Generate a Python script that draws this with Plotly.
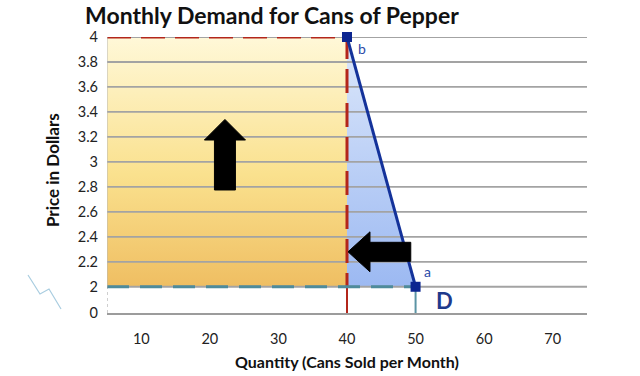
import plotly.graph_objects as go

# ---- data ----
demand_qty = [40, 50]          # quantity at points b, a
demand_price = [4, 2]          # price at points b, a
point_labels = ["b", "a"]
x_ticks = [10, 20, 30, 40, 50, 60, 70]
y_ticks = [2.0, 2.2, 2.4, 2.6, 2.8, 3.0, 3.2, 3.4, 3.6, 3.8, 4.0]
y_tick_text = ["2", "2.2", "2.4", "2.6", "2.8", "3", "3.2", "3.4", "3.6", "3.8", "4"]

# axis layout (broken axis: 0 shown one step below 2)
X_MIN, X_MAX = 5, 75
ZERO_POS = 1.79
Y_MAX = 4

FONT = "Lato"
qb, qa = demand_qty
pb, pa = demand_price

fig = go.Figure()

# orange revenue rectangle (price b x quantity b)
fig.add_trace(go.Scatter(
    x=[X_MIN, qb, qb, X_MIN, X_MIN], y=[pa, pa, pb, pb, pa],
    fill="toself", mode="lines", line=dict(width=0),
    fillgradient=dict(type="vertical", start=pa, stop=pb,
                      colorscale=[[0, "#EFBE62"], [0.45, "#FAE18E"], [1, "#FFF8D8"]]),
    hoverinfo="skip", showlegend=False))

# blue triangle between quantity b and demand curve
fig.add_trace(go.Scatter(
    x=[qb, qa, qb, qb], y=[pa, pa, pb, pa],
    fill="toself", mode="lines", line=dict(width=0),
    fillgradient=dict(type="vertical", start=pa, stop=pb,
                      colorscale=[[0, "#9CB9F2"], [1, "#DDE8FB"]]),
    hoverinfo="skip", showlegend=False))

# horizontal gridlines drawn above the fills
gx, gy = [], []
for v in y_ticks:
    gx += [X_MIN, X_MAX, None]
    gy += [v, v, None]
fig.add_trace(go.Scatter(x=gx, y=gy, mode="lines",
                         line=dict(color="#A3A3A3", width=1.8),
                         hoverinfo="skip", showlegend=False))

# red dashed guide lines for point b
fig.add_trace(go.Scatter(x=[X_MIN, qb, qb], y=[pb, pb, pa], mode="lines",
                         line=dict(color="#B3261B", width=3, dash="24px,10px"),
                         hoverinfo="skip", showlegend=False, cliponaxis=False))
fig.add_trace(go.Scatter(x=[qb, qb], y=[pa, ZERO_POS], mode="lines",
                         line=dict(color="#B3261B", width=2),
                         hoverinfo="skip", showlegend=False))

# teal guide lines for point a
fig.add_trace(go.Scatter(x=[X_MIN, qa], y=[pa, pa], mode="lines",
                         line=dict(color="#4E8B9B", width=3, dash="22px,11px"),
                         hoverinfo="skip", showlegend=False))
fig.add_trace(go.Scatter(x=[qa, qa], y=[pa, ZERO_POS], mode="lines",
                         line=dict(color="#5B94A4", width=2),
                         hoverinfo="skip", showlegend=False))

# demand curve
fig.add_trace(go.Scatter(x=demand_qty, y=demand_price, mode="lines+markers",
                         line=dict(color="#14329A", width=3),
                         marker=dict(symbol="square", size=10, color="#0C2590"),
                         cliponaxis=False, hoverinfo="skip", showlegend=False))

annotations = []
# point labels
annotations.append(dict(x=qb, y=pb, text=point_labels[0], showarrow=False,
                        xanchor="center", yanchor="middle",
                        xshift=15, yshift=-11, font=dict(family=FONT, size=14, color="#2A4AA8")))
annotations.append(dict(x=qa, y=pa, text=point_labels[1], showarrow=False,
                        xanchor="center", yanchor="middle",
                        xshift=12, yshift=15, font=dict(family=FONT, size=14, color="#2A4AA8")))
annotations.append(dict(x=qa, y=pa, text="<b>D</b>", showarrow=False,
                        xanchor="center", yanchor="middle",
                        xshift=29, yshift=-14, font=dict(family=FONT, size=22, color="#1F3A8C")))
# axis titles
annotations.append(dict(xref="paper", yref="paper", x=0.5, y=-0.175,
                        xanchor="center", yanchor="middle",
                        text="<b>Quantity (Cans Sold per Month)</b>", showarrow=False,
                        font=dict(family=FONT, size=16, color="#111")))
annotations.append(dict(xref="paper", yref="paper", x=-0.1146, y=0.518, textangle=-90,
                        xanchor="center", yanchor="middle",
                        text="<b>Price in Dollars</b>", showarrow=False,
                        font=dict(family=FONT, size=17, color="#111")))

shapes = []
# left axis edge and dotted break segment
shapes.append(dict(type="line", xref="x", yref="y", x0=X_MIN, x1=X_MIN, y0=pa, y1=Y_MAX,
                   line=dict(color="#B8B8B8", width=1)))
shapes.append(dict(type="line", xref="x", yref="y", x0=X_MIN, x1=X_MIN, y0=ZERO_POS, y1=pa,
                   line=dict(color="#A0A0A0", width=1, dash="dot")))
# axis-break squiggle
shapes.append(dict(type="path", xref="paper", yref="paper",
                   path="M -0.1646 0.1377 L -0.1396 0.0688 L -0.1208 0.0870 L -0.0958 0.0145",
                   line=dict(color="#A9CDE0", width=1.2)))

# block arrows
def up_arrow(cx, tip, head_base, bottom, head_hw, shaft_hw):
    return ("M {l} {b} L {l} {hb} L {hl} {hb} L {cx} {t} L {hr} {hb} L {r} {hb} L {r} {b} Z"
            .format(l=cx - shaft_hw, r=cx + shaft_hw, b=bottom, hb=head_base,
                    hl=cx - head_hw, hr=cx + head_hw, cx=cx, t=tip))

def left_arrow(cy, tip, head_base, right, head_hh, shaft_hh):
    return ("M {r} {t1} L {hb} {t1} L {hb} {ht} L {tip} {cy} L {hb} {hbm} L {hb} {b1} L {r} {b1} Z"
            .format(r=right, t1=cy + shaft_hh, b1=cy - shaft_hh, hb=head_base,
                    ht=cy + head_hh, hbm=cy - head_hh, tip=tip, cy=cy))

shapes.append(dict(type="path", xref="x", yref="y", layer="above",
                   path=up_arrow(22.2, 3.34, 3.175, 2.775, 3.0, 1.53),
                   fillcolor="black", line=dict(color="black", width=1)))
shapes.append(dict(type="path", xref="x", yref="y", layer="above",
                   path=left_arrow(2.28, 40.15, 43.35, 49.3, 0.16, 0.076),
                   fillcolor="black", line=dict(color="black", width=1)))

fig.update_layout(
    width=640, height=376,
    margin=dict(l=107, r=53, t=37, b=63),
    paper_bgcolor="white", plot_bgcolor="white",
    title=dict(text="<b>Monthly Demand for Cans of Pepper</b>", xref="container", yref="container",
               x=0.133, xanchor="left", y=0.958, yanchor="middle",
               font=dict(family=FONT, size=23, color="#111")),
    xaxis=dict(range=[X_MIN, X_MAX], tickvals=x_ticks, showgrid=False, zeroline=False,
               showline=True, linecolor="#9C9C9C", linewidth=2,
               tickfont=dict(family=FONT, size=14.5, color="#222"), ticklabelstandoff=12),
    yaxis=dict(range=[ZERO_POS, Y_MAX], tickvals=[ZERO_POS] + y_ticks,
               ticktext=["0"] + y_tick_text, showgrid=False, zeroline=False, showline=False,
               tickfont=dict(family=FONT, size=14.5, color="#222"), ticklabelstandoff=8),
    annotations=annotations, shapes=shapes,
    showlegend=False,
)

fig.write_html("out.html", config={"displayModeBar": False},
               post_script="document.body.style.margin='0';")
